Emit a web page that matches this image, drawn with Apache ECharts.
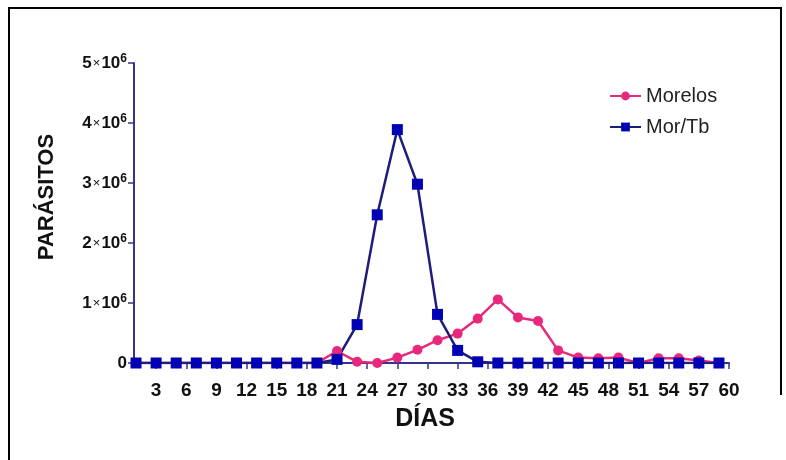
<!DOCTYPE html>
<html>
<head>
<meta charset="utf-8">
<script src="https://cdn.jsdelivr.net/npm/echarts@6/dist/echarts.min.js"></script>
<style>
  html, body { margin: 0; padding: 0; background: #fff; }
  #chart { width: 786px; height: 460px; }
</style>
</head>
<body>
<div id="chart"></div>
<script>
// Sampling days (every second day)
const days = [1, 3, 5, 7, 9, 11, 13, 15, 17, 19, 21, 23, 25, 27, 29, 31, 33, 35, 37, 39, 41, 43, 45, 47, 49, 51, 53, 55, 57, 59];

// Parasite counts per sampling day
const morelos = [0, 0, 0, 0, 0, 0, 0, 0, 0, 0,
  200000, 20000, 0, 90000, 220000, 380000, 490000, 740000, 1060000, 760000,
  700000, 210000, 90000, 80000, 90000, 0, 80000, 80000, 40000, 0];
const morTb = [0, 0, 0, 0, 0, 0, 0, 0, 0, 0,
  60000, 640000, 2470000, 3890000, 2980000, 810000, 210000, 20000, 0, 0,
  0, 0, 0, 0, 0, 0, 0, 0, 0, 0];

// Axis ticks
const dayTicks = [3, 6, 9, 12, 15, 18, 21, 24, 27, 30, 33, 36, 39, 42, 45, 48, 51, 54, 57, 60];

const seriesNames = ['Morelos', 'Mor/Tb'];

const FONT = "'Liberation Sans Narrow', 'Arial Narrow', 'Liberation Sans', Arial, sans-serif";
const AXIS_COLOR = '#34348a';

const pairs = (vals) => days.map((d, i) => [d, vals[i]]);

const chart = echarts.init(document.getElementById('chart'));

chart.setOption({
  backgroundColor: '#ffffff',
  animation: false,
  grid: { left: 134, right: 57, top: 63, bottom: 97 },
  legend: {
    orient: 'vertical',
    left: 604,
    top: 81,
    itemWidth: 31,
    itemHeight: 11,
    itemGap: 11,
    textStyle: { fontFamily: FONT, fontSize: 20, color: '#222', padding: [0, 0, 0, 0] },
    data: seriesNames
  },
  xAxis: {
    type: 'value',
    min: 0.8,
    max: 60,
    axisLine: { lineStyle: { color: AXIS_COLOR, width: 2 } },
    axisTick: { show: true, length: 6, customValues: dayTicks, lineStyle: { color: AXIS_COLOR, width: 1.5 } },
    axisLabel: {
      customValues: dayTicks,
      margin: 18,
      fontFamily: FONT, fontWeight: 'bold', fontSize: 19, color: '#111'
    },
    splitLine: { show: false }
  },
  yAxis: {
    type: 'value',
    min: 0,
    max: 5000000,
    interval: 1000000,
    axisLine: { show: true, lineStyle: { color: AXIS_COLOR, width: 2 } },
    axisTick: { show: true, length: 6, lineStyle: { color: AXIS_COLOR, width: 1.5 } },
    splitLine: { show: false },
    axisLabel: {
      margin: 7,
      formatter: (v) => v === 0 ? '{n|0}' : '{n|' + (v / 1000000) + '}{x|×}{n|10}{s|6}',
      rich: {
        n: { fontFamily: FONT, fontWeight: 'bold', fontSize: 17, color: '#111' },
        x: { fontFamily: FONT, fontSize: 13, color: '#111', padding: [0, 1, 0, 1] },
        s: { fontFamily: FONT, fontWeight: 'bold', fontSize: 12, color: '#111', verticalAlign: 'top', padding: [0, 0, 9, 0] }
      }
    }
  },
  series: [
    {
      name: seriesNames[0],
      type: 'line',
      data: pairs(morelos),
      symbol: 'circle',
      symbolSize: 10,
      lineStyle: { color: '#e8287c', width: 2.5 },
      itemStyle: { color: '#e8287c' }
    },
    {
      name: seriesNames[1],
      type: 'line',
      data: pairs(morTb),
      symbol: 'rect',
      symbolSize: 11,
      lineStyle: { color: '#1d1d7c', width: 2.5 },
      itemStyle: { color: '#0000b4' }
    }
  ],
  graphic: [
    {
      type: 'polyline',
      shape: { points: [[9, 460], [9, 8], [781, 8], [781, 395]] },
      style: { stroke: '#000', lineWidth: 2, fill: null }
    },
    {
      type: 'text',
      x: 47, y: 197,
      rotation: Math.PI / 2,
      style: {
        text: 'PARÁSITOS',
        font: "bold 22px " + FONT,
        fill: '#111',
        align: 'center',
        verticalAlign: 'middle'
      }
    },
    {
      type: 'text',
      x: 425, y: 419,
      style: {
        text: 'DÍAS',
        font: "bold 25px " + FONT,
        fill: '#111',
        align: 'center',
        verticalAlign: 'middle'
      }
    }
  ]
});
</script>
</body>
</html>
